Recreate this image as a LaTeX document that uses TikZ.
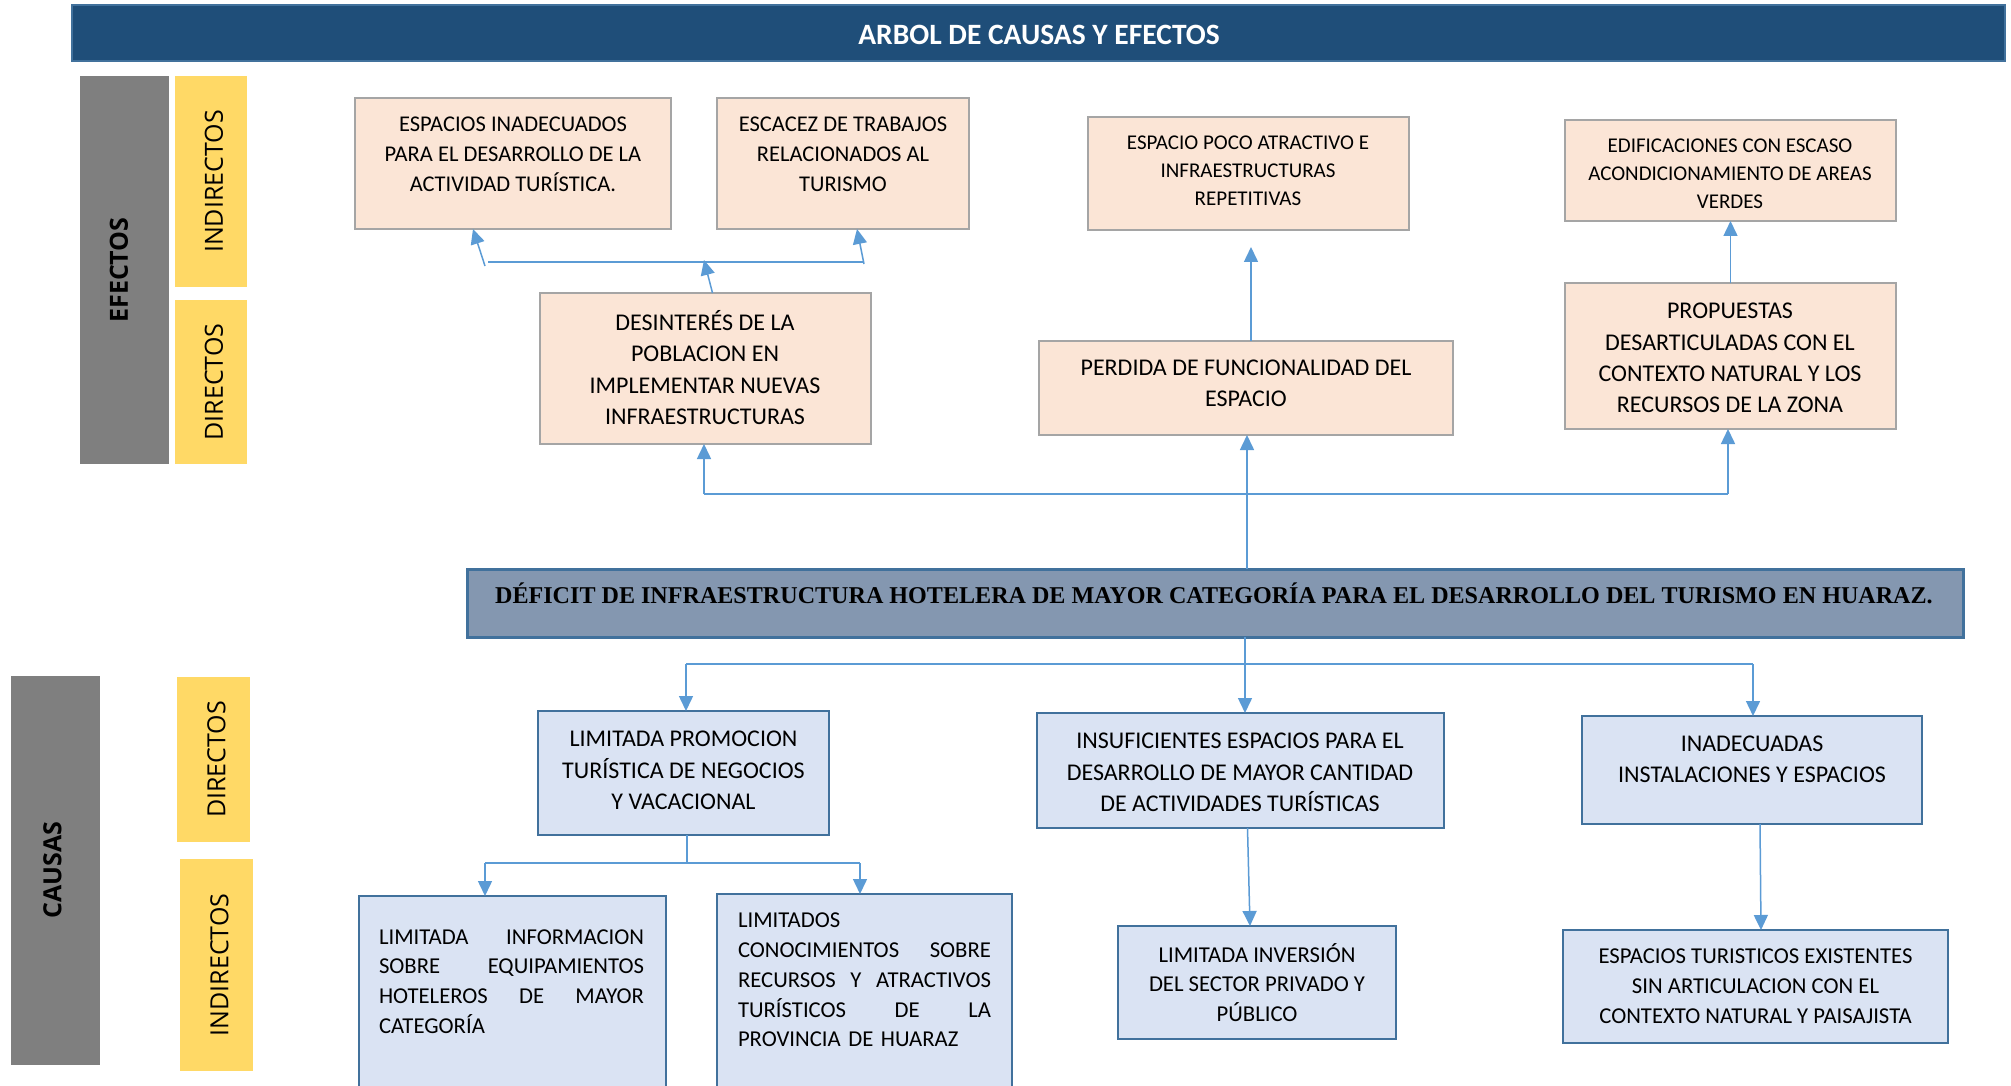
\documentclass[tikz,border=0pt]{standalone}
\usepackage{fontspec}
\setmainfont{Carlito}
\newfontfamily\tnrfont{Liberation Serif}
\newfontfamily\osfont{Open Sans}
\usetikzlibrary{arrows.meta}
\definecolor{titlefill}{HTML}{1F4E79}
\definecolor{titledraw}{HTML}{41719C}
\definecolor{efill}{HTML}{FBE5D6}
\definecolor{edraw}{HTML}{A5A5A5}
\definecolor{cfill}{HTML}{DAE3F3}
\definecolor{cdraw}{HTML}{41719C}
\definecolor{mfill}{HTML}{8497B0}
\definecolor{mdraw}{HTML}{41719C}
\definecolor{bargray}{HTML}{7F7F7F}
\definecolor{baryellow}{HTML}{FFD966}
\definecolor{conncol}{HTML}{5B9BD5}
\newcommand{\mkbox}[6]{\node[#2,minimum width={(#5-#3)*1pt},minimum height={(#6-#4)*1pt}] (#1) at ({(#3+#5)/2},{(#4+#6)/2}) {};}
\tikzset{
  base/.style={inner sep=0pt,outer sep=0pt,rectangle},
  titlebox/.style={base,fill=titlefill,draw=titledraw,line width=2.5pt},
  ebox/.style={base,fill=efill,draw=edraw,line width=2.5pt},
  cbox/.style={base,fill=cfill,draw=cdraw,line width=2.5pt},
  mainbox/.style={base,fill=mfill,draw=mdraw,line width=3pt},
  graybar/.style={base,fill=bargray},
  yellowbar/.style={base,fill=baryellow},
  txt/.style={inner sep=0pt,align=center},
  fa/.style={font=\fontsize{22.5}{30}\selectfont},
  fb/.style={font=\fontsize{21}{28}\selectfont},
  fc/.style={font=\fontsize{24}{31.3}\selectfont},
  fd/.style={font=\fontsize{22.7}{29.8}\selectfont},
  vlab/.style={inner sep=0pt,rotate=90,font=\osfont\fontsize{25}{25}\selectfont},
  vlabb/.style={inner sep=0pt,rotate=90,font=\osfont\bfseries\fontsize{25}{25}\selectfont},
  conn/.style={draw=conncol,line width=1.5pt},
  arr/.style={conn,-{Triangle[length=15pt,width=14pt]}},
}
\begin{document}
\begin{tikzpicture}[x=1pt,y=-1pt]
\useasboundingbox (0,0) rectangle (2011,1086);
\fill[white] (0,0) rectangle (2011,1086);
% title
\mkbox{title}{titlebox}{72}{5}{2005}{61}
\node[txt,text=white,font=\bfseries\fontsize{29.5}{29.5}\selectfont] (titlet) at (1039,35) {ARBOL DE CAUSAS Y EFECTOS};
% side bars effects
\mkbox{gE}{graybar}{80}{76}{169}{464}
\mkbox{yEI}{yellowbar}{175}{76}{247}{287}
\mkbox{yED}{yellowbar}{175}{300}{247}{464}
\node[vlabb] (lE) at (119,270) {EFECTOS};
\node[vlab] (lEI) at (214,181.5) {INDIRECTOS};
\node[vlab] (lED) at (214,382) {DIRECTOS};
% side bars causes
\mkbox{gC}{graybar}{11}{676}{100}{1065}
\mkbox{yCD}{yellowbar}{177}{677}{250}{842}
\mkbox{yCI}{yellowbar}{180}{859}{253}{1071}
\node[vlabb] (lC) at (52.5,870) {CAUSAS};
\node[vlab] (lCD) at (216.5,759.5) {DIRECTOS};
\node[vlab] (lCI) at (219.5,965) {INDIRECTOS};
% effect boxes
\mkbox{e1}{ebox}{355}{98}{671}{229}
\mkbox{e2}{ebox}{717}{98}{969}{229}
\mkbox{e3}{ebox}{1088}{117}{1409}{230}
\mkbox{e4}{ebox}{1565}{120}{1896}{221}
\mkbox{d1}{ebox}{540}{293}{871}{444}
\mkbox{d2}{ebox}{1039}{341}{1453}{435}
\mkbox{d3}{ebox}{1565}{283}{1896}{429}
\node[txt,fa] (e1t) at (513,154) {ESPACIOS INADECUADOS\\PARA EL DESARROLLO DE LA\\ACTIVIDAD TURÍSTICA.};
\node[txt,fa] (e2t) at (843,154) {ESCACEZ DE TRABAJOS\\RELACIONADOS AL\\TURISMO};
\node[txt,fb] (e3t) at (1248,171) {ESPACIO POCO ATRACTIVO E\\INFRAESTRUCTURAS\\REPETITIVAS};
\node[txt,fb] (e4t) at (1730,174) {EDIFICACIONES CON ESCASO\\ACONDICIONAMIENTO DE AREAS\\VERDES};
\node[txt,fc] (d1t) at (705,367.5) {DESINTERÉS DE LA\\POBLACION EN\\IMPLEMENTAR NUEVAS\\INFRAESTRUCTURAS};
\node[txt,fc] (d2t) at (1246,383.5) {PERDIDA DE FUNCIONALIDAD DEL\\ESPACIO};
\node[txt,fc] (d3t) at (1730,358) {PROPUESTAS\\DESARTICULADAS CON EL\\CONTEXTO NATURAL Y LOS\\RECURSOS DE LA ZONA};
% main problem
\mkbox{main}{mainbox}{467}{569}{1963}{637}
\node[inner sep=0pt,anchor=base,font=\tnrfont\bfseries\fontsize{24.1}{24.1}\selectfont] (maint) at (1214,603) {DÉFICIT DE INFRAESTRUCTURA HOTELERA DE MAYOR CATEGORÍA PARA EL DESARROLLO DEL TURISMO EN HUARAZ.};
% cause boxes
\mkbox{c1}{cbox}{538}{711}{829}{835}
\mkbox{c2}{cbox}{1037}{713}{1444}{828}
\mkbox{c3}{cbox}{1582}{716}{1922}{824}
\mkbox{c2i}{cbox}{1118}{926}{1396}{1039}
\mkbox{c3i}{cbox}{1563}{930}{1948}{1043}
\mkbox{c1a}{cbox}{359}{896}{666}{1095}
\mkbox{c1b}{cbox}{717}{894}{1012}{1095}
\node[txt,fc] (c1t) at (683.5,770.5) {LIMITADA PROMOCION\\TURÍSTICA DE NEGOCIOS\\Y VACACIONAL};
\node[txt,fc] (c2t) at (1240,772.5) {INSUFICIENTES ESPACIOS PARA EL\\DESARROLLO DE MAYOR CANTIDAD\\DE ACTIVIDADES TURÍSTICAS};
\node[txt,fc] (c3t) at (1752,759.5) {INADECUADAS\\INSTALACIONES Y ESPACIOS};
\node[txt,fd] (c2it) at (1257,982.5) {LIMITADA INVERSIÓN\\DEL SECTOR PRIVADO Y\\PÚBLICO};
\node[txt,fd] (c3it) at (1755.5,986) {ESPACIOS TURISTICOS EXISTENTES\\SIN ARTICULACION CON EL\\CONTEXTO NATURAL Y PAISAJISTA};
\node[txt,fd,align=left,text width=265pt] (c1at) at (511.5,981.5) {LIMITADA\hfill INFORMACION\\SOBRE\hfill EQUIPAMIENTOS\\HOTELEROS\hfill DE\hfill MAYOR\\CATEGORÍA};
\node[txt,fd,align=left,text width=253pt] (c1bt) at (864.5,980) {LIMITADOS\\CONOCIMIENTOS\hfill SOBRE\\RECURSOS\hfill Y\hfill ATRACTIVOS\\TURÍSTICOS\hfill DE\hfill LA\\PROVINCIA DE HUARAZ};
% effect connectors
\coordinate (jE) at (1247,494);
\coordinate (jEl) at (704,494);
\coordinate (jEr) at (1728,494);
\draw[conn] (main.north -| jE) -- (jE);
\draw[conn] (jEl) -- (jEr);
\draw[arr] (jEl) -- (jEl |- d1.south);
\draw[arr] (jE) -- (jE |- d2.south);
\draw[arr] (jEr) -- (jEr |- d3.south);
\coordinate (t1) at (704,260);
\coordinate (bL) at (488,262);
\coordinate (bR) at (864,262);
\coordinate (aL) at (485,266);
\coordinate (aR) at (864,264);
\draw[arr] ([xshift=7pt]d1.north) -- (t1);
\draw[conn] (bL) -- (bR);
\draw[arr] (aL) -- ([xshift=-40pt]e1.south);
\draw[arr] (aR) -- ([xshift=14pt]e2.south);
\coordinate (t2) at (1251,247);
\draw[arr] (d2.north -| t2) -- (t2);
\draw[arr] (d3.north) -- (e4.south);
% cause connectors
\coordinate (jC) at (1245,664);
\coordinate (jCl) at (686,664);
\coordinate (jCr) at (1753,664);
\draw[conn] (main.south -| jC) -- (jC);
\draw[conn] (jCl) -- (jCr);
\draw[arr] (jCl) -- (jCl |- c1.north);
\draw[arr] (jC) -- (jC |- c2.north);
\draw[arr] (jCr) -- (jCr |- c3.north);
\coordinate (jD) at (687,863);
\coordinate (jDl) at (485,863);
\coordinate (jDr) at (860,863);
\draw[conn] (c1.south -| jD) -- (jD);
\draw[conn] (jDl) -- (jDr);
\draw[arr] (jDl) -- (jDl |- c1a.north);
\draw[arr] (jDr) -- (jDr |- c1b.north);
\draw[arr] ([xshift=7pt]c2.south) -- ([xshift=-7pt]c2i.north);
\draw[arr] ([xshift=8pt]c3.south) -- ([xshift=5.5pt]c3i.north);
\end{tikzpicture}
\end{document}
